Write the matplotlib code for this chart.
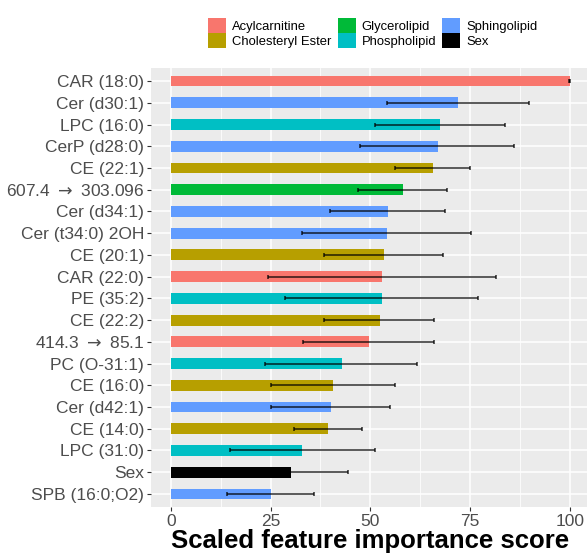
import numpy as np
import matplotlib.pyplot as plt
from matplotlib.patches import Patch
from matplotlib.ticker import MultipleLocator

plt.rcParams['font.family'] = ['Liberation Sans', 'DejaVu Sans']

features = ['CAR (18:0)', 'Cer (d30:1)', 'LPC (16:0)', 'CerP (d28:0)', 'CE (22:1)',
            '607.4 $\\rightarrow$ 303.096', 'Cer (d34:1)', 'Cer (t34:0) 2OH', 'CE (20:1)',
            'CAR (22:0)', 'PE (35:2)', 'CE (22:2)', '414.3 $\\rightarrow$ 85.1', 'PC (O-31:1)',
            'CE (16:0)', 'Cer (d42:1)', 'CE (14:0)', 'LPC (31:0)', 'Sex', 'SPB (16:0;O2)']
groups = ['Acylcarnitine', 'Sphingolipid', 'Phospholipid', 'Sphingolipid', 'Cholesteryl Ester',
          'Glycerolipid', 'Sphingolipid', 'Sphingolipid', 'Cholesteryl Ester',
          'Acylcarnitine', 'Phospholipid', 'Cholesteryl Ester', 'Acylcarnitine', 'Phospholipid',
          'Cholesteryl Ester', 'Sphingolipid', 'Cholesteryl Ester', 'Phospholipid', 'Sex',
          'Sphingolipid']
score = [100, 72.0, 67.5, 67.0, 65.7, 58.2, 54.4, 54.2, 53.4, 52.9, 52.9, 52.4, 49.7,
         42.9, 40.6, 40.1, 39.4, 32.9, 30.1, 25.0]
err_lo = [99.8, 54.3, 51.2, 47.5, 56.3, 46.8, 39.9, 32.9, 38.3, 24.3, 28.7, 38.3, 33.0,
          23.7, 25.2, 25.1, 30.9, 14.9, 16.0, 14.0]
err_hi = [100.2, 89.8, 83.9, 86.1, 75.1, 69.3, 68.7, 75.2, 68.3, 81.6, 76.9, 66.1, 65.9,
          61.8, 56.2, 54.9, 47.9, 51.1, 44.4, 36.0]

group_order = ['Acylcarnitine', 'Cholesteryl Ester', 'Glycerolipid',
               'Phospholipid', 'Sphingolipid', 'Sex']
palette = {'Acylcarnitine': '#F8766D', 'Cholesteryl Ester': '#B79F00',
           'Glycerolipid': '#00BA38', 'Phospholipid': '#00BFC4',
           'Sphingolipid': '#619CFF', 'Sex': '#000000'}

n = len(features)
y = np.arange(n)[::-1]

fig = plt.figure(figsize=(5.87, 5.54), dpi=100)
ax = fig.add_axes([151 / 587, 47 / 554, 438.6 / 587, 439 / 554])
ax.set_facecolor('#EBEBEB')

ax.barh(y, score, height=0.5, color=[palette[g] for g in groups], zorder=2)
sc = np.array(score)
ax.errorbar(sc, y, xerr=[sc - np.array(err_lo), np.array(err_hi) - sc], fmt='none',
            ecolor='black', elinewidth=1.2, capsize=1.6, capthick=1.2, alpha=0.75, zorder=3)

ax.set_xlim(-5, 105)
ax.set_ylim(-0.6, n - 0.4)
ax.set_yticks(y)
ax.set_yticklabels(features)
ax.xaxis.set_major_locator(MultipleLocator(25))
ax.xaxis.set_minor_locator(MultipleLocator(12.5))
ax.grid(which='major', color='white', lw=1.1, zorder=0)
ax.grid(which='minor', axis='x', color='white', lw=0.55, zorder=0)
ax.set_axisbelow(True)
for s in ax.spines.values():
    s.set_visible(False)
ax.tick_params(which='major', length=3, width=0.8, color='#333333',
               labelsize=12.5, labelcolor='#4D4D4D', pad=2)
ax.tick_params(which='minor', length=0)
ax.set_xlabel('Scaled feature importance score', fontsize=18.5, fontweight='bold',
              color='black', labelpad=0)

handles = [Patch(facecolor=palette[g], edgecolor='none', label=g) for g in group_order]
fig.legend(handles=handles, loc='center', bbox_to_anchor=(373 / 587, 1 - 33 / 554), ncol=3,
           frameon=False, fontsize=9.4, handlelength=1.38, handleheight=1.38,
           handletextpad=0.46, columnspacing=0.46, labelspacing=0.0, borderpad=0)

fig.savefig('out.png', dpi=100)
